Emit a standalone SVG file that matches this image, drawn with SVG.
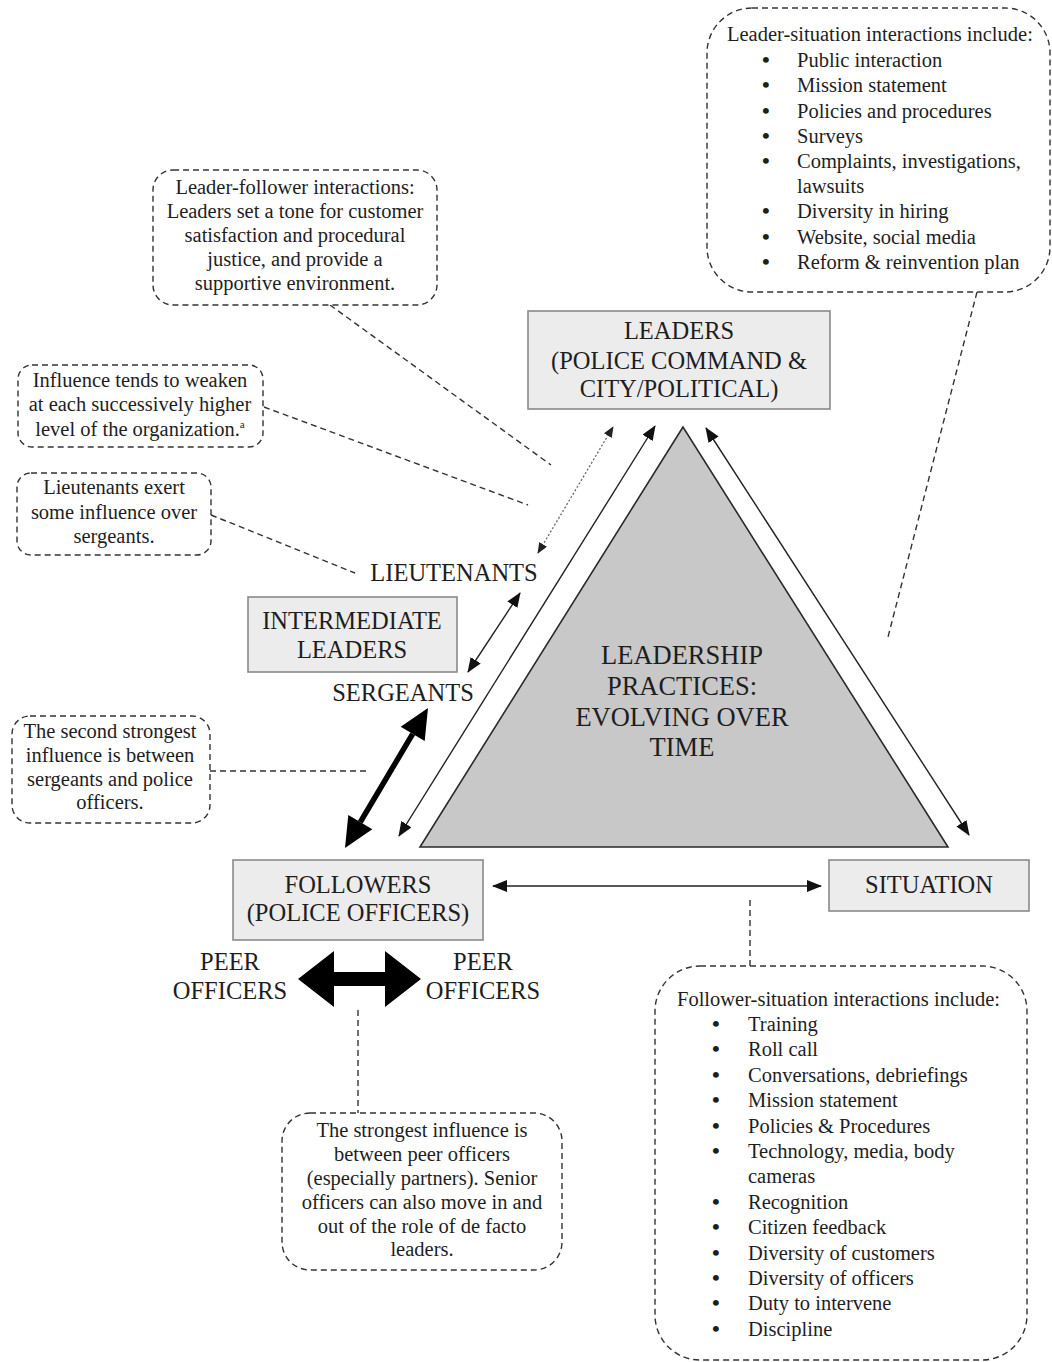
<svg xmlns="http://www.w3.org/2000/svg" width="1052" height="1362" viewBox="0 0 1052 1362" font-family="'Liberation Serif', 'DejaVu Serif', serif">
<style>
text{font-family:'Liberation Serif','DejaVu Serif',serif;fill:#1e1e1e}
.lbl{font-size:24.5px;text-anchor:middle}
.tri{font-size:26.5px;text-anchor:middle}
.note{font-size:20.5px;text-anchor:middle}
.lst{font-size:20.5px}
.bul{font-size:22px;font-weight:bold}
.node{fill:#ececec;stroke:#8a8a8a;stroke-width:1.6}
.call{fill:#fff;stroke:#333;stroke-width:1.4;stroke-dasharray:6 4}
.dash{fill:none;stroke:#333;stroke-width:1.4;stroke-dasharray:6 4}
.thin{fill:none;stroke:#222;stroke-width:1.4;marker-start:url(#ah);marker-end:url(#ah)}
.dot{fill:none;stroke:#666;stroke-width:1.3;stroke-dasharray:2 2;marker-start:url(#ahs);marker-end:url(#ahs)}
</style>
<defs>
<marker id="ah" viewBox="0 0 15 12" refX="14" refY="6" markerWidth="15" markerHeight="12" markerUnits="userSpaceOnUse" orient="auto-start-reverse"><path d="M0,0 L15,6 L0,12 z" fill="#111"/></marker>
<marker id="ahs" viewBox="0 0 11 9" refX="10" refY="4.5" markerWidth="11" markerHeight="9" markerUnits="userSpaceOnUse" orient="auto-start-reverse"><path d="M0,0 L11,4.5 L0,9 z" fill="#222"/></marker>
</defs>

<g id="connectors">
<line class="dash" x1="330" y1="305" x2="551" y2="465"/>
<line class="dash" x1="264" y1="407" x2="528" y2="505"/>
<line class="dash" x1="211" y1="515" x2="355" y2="573"/>
<line class="dash" x1="210" y1="771" x2="367" y2="771"/>
<line class="dash" x1="358" y1="1010" x2="358" y2="1113"/>
<line class="dash" x1="750" y1="900" x2="750" y2="966"/>
<line class="dash" x1="977" y1="292" x2="888" y2="637"/>
<line class="thin" x1="399" y1="836" x2="655" y2="426"/>
<line class="thin" x1="706" y1="428" x2="969" y2="835"/>
<line class="dot" x1="538" y1="553" x2="613" y2="427"/>
<line class="thin" x1="468" y1="672" x2="520" y2="593"/>
<line class="thin" x1="493" y1="886" x2="821" y2="886"/>
<line x1="360.3" y1="822.2" x2="412.7" y2="733.8" stroke="#000" stroke-width="5.5"/>
<polygon points="428,708 424.7,740.9 400.7,726.7" fill="#000"/>
<polygon points="345,848 372.3,829.3 348.3,815.1" fill="#000"/>
<polygon points="298,979 334,951 334,972 385,972 385,951 421,979 385,1007 385,986 334,986 334,1007" fill="#000"/>
</g>

<g id="triangle">
<polygon points="683,427 420,847 948,847" fill="#c8c8c8" stroke="#2a2a2a" stroke-width="1.6"/>
<text class="tri" x="682" y="664">LEADERSHIP</text>
<text class="tri" x="682" y="695">PRACTICES:</text>
<text class="tri" x="682" y="726">EVOLVING OVER</text>
<text class="tri" x="682" y="756">TIME</text>
</g>

<g id="leaders">
<rect class="node" x="528" y="311" width="302" height="98"/>
<text class="lbl" x="679" y="339">LEADERS</text>
<text class="lbl" x="679" y="369">(POLICE COMMAND &amp;</text>
<text class="lbl" x="679" y="397">CITY/POLITICAL)</text>
</g>

<g id="followers">
<rect class="node" x="233" y="860" width="250" height="80"/>
<text class="lbl" x="358" y="893">FOLLOWERS</text>
<text class="lbl" x="358" y="921">(POLICE OFFICERS)</text>
</g>

<g id="situation">
<rect class="node" x="829" y="860" width="200" height="51"/>
<text class="lbl" x="929" y="893">SITUATION</text>
</g>

<g id="intermediate">
<rect class="node" x="248" y="597" width="209" height="75"/>
<text class="lbl" x="352" y="629">INTERMEDIATE</text>
<text class="lbl" x="352" y="658">LEADERS</text>
</g>

<g id="lieutenants"><text class="lbl" x="454" y="581">LIEUTENANTS</text></g>
<g id="sergeants"><text class="lbl" x="403" y="701">SERGEANTS</text></g>
<g id="peer-left"><text class="lbl" x="230" y="970">PEER</text><text class="lbl" x="230" y="999">OFFICERS</text></g>
<g id="peer-right"><text class="lbl" x="483" y="970">PEER</text><text class="lbl" x="483" y="999">OFFICERS</text></g>

<g id="note-leader-situation">
<rect class="call" x="707" y="8" width="343" height="284" rx="45" ry="45"/>
<text class="lst" x="727" y="41">Leader-situation interactions include:</text>
<g class="lst">
<text class="bul" x="762" y="67">•</text><text x="797" y="67">Public interaction</text>
<text class="bul" x="762" y="92">•</text><text x="797" y="92">Mission statement</text>
<text class="bul" x="762" y="118">•</text><text x="797" y="118">Policies and procedures</text>
<text class="bul" x="762" y="143">•</text><text x="797" y="143">Surveys</text>
<text class="bul" x="762" y="168">•</text><text x="797" y="168">Complaints, investigations,</text>
<text x="797" y="193">lawsuits</text>
<text class="bul" x="762" y="218">•</text><text x="797" y="218">Diversity in hiring</text>
<text class="bul" x="762" y="244">•</text><text x="797" y="244">Website, social media</text>
<text class="bul" x="762" y="269">•</text><text x="797" y="269">Reform &amp; reinvention plan</text>
</g>
</g>

<g id="note-leader-follower">
<rect class="call" x="153" y="170" width="284" height="135" rx="20" ry="20"/>
<text class="note" x="295" y="194">Leader-follower interactions:</text>
<text class="note" x="295" y="218">Leaders set a tone for customer</text>
<text class="note" x="295" y="242">satisfaction and procedural</text>
<text class="note" x="295" y="266">justice, and provide a</text>
<text class="note" x="295" y="290">supportive environment.</text>
</g>

<g id="note-influence">
<rect class="call" x="18" y="365" width="245" height="82" rx="14" ry="14"/>
<text class="note" x="140" y="387">Influence tends to weaken</text>
<text class="note" x="140" y="411">at each successively higher</text>
<text class="note" x="140" y="436">level of the organization.<tspan font-size="11" dy="-8">a</tspan></text>
</g>

<g id="note-lieutenants">
<rect class="call" x="17" y="473" width="194" height="82" rx="14" ry="14"/>
<text class="note" x="114" y="494">Lieutenants exert</text>
<text class="note" x="114" y="519">some influence over</text>
<text class="note" x="114" y="543">sergeants.</text>
</g>

<g id="note-second">
<rect class="call" x="12" y="716" width="198" height="107" rx="18" ry="18"/>
<text class="note" x="110" y="738">The second strongest</text>
<text class="note" x="110" y="762">influence is between</text>
<text class="note" x="110" y="786">sergeants and police</text>
<text class="note" x="110" y="809">officers.</text>
</g>

<g id="note-strongest">
<rect class="call" x="282" y="1113" width="280" height="157" rx="28" ry="28"/>
<text class="note" x="422" y="1137">The strongest influence is</text>
<text class="note" x="422" y="1161">between peer officers</text>
<text class="note" x="422" y="1185">(especially partners). Senior</text>
<text class="note" x="422" y="1209">officers can also move in and</text>
<text class="note" x="422" y="1233">out of the role of de facto</text>
<text class="note" x="422" y="1256">leaders.</text>
</g>

<g id="note-follower-situation">
<rect class="call" x="655" y="966" width="372" height="394" rx="45" ry="45"/>
<text class="lst" x="677" y="1006">Follower-situation interactions include:</text>
<g class="lst">
<text class="bul" x="712" y="1031">•</text><text x="748" y="1031">Training</text>
<text class="bul" x="712" y="1056">•</text><text x="748" y="1056">Roll call</text>
<text class="bul" x="712" y="1082">•</text><text x="748" y="1082">Conversations, debriefings</text>
<text class="bul" x="712" y="1107">•</text><text x="748" y="1107">Mission statement</text>
<text class="bul" x="712" y="1133">•</text><text x="748" y="1133">Policies &amp; Procedures</text>
<text class="bul" x="712" y="1158">•</text><text x="748" y="1158">Technology, media, body</text>
<text x="748" y="1183">cameras</text>
<text class="bul" x="712" y="1209">•</text><text x="748" y="1209">Recognition</text>
<text class="bul" x="712" y="1234">•</text><text x="748" y="1234">Citizen feedback</text>
<text class="bul" x="712" y="1260">•</text><text x="748" y="1260">Diversity of customers</text>
<text class="bul" x="712" y="1285">•</text><text x="748" y="1285">Diversity of officers</text>
<text class="bul" x="712" y="1310">•</text><text x="748" y="1310">Duty to intervene</text>
<text class="bul" x="712" y="1336">•</text><text x="748" y="1336">Discipline</text>
</g>
</g>
</svg>
